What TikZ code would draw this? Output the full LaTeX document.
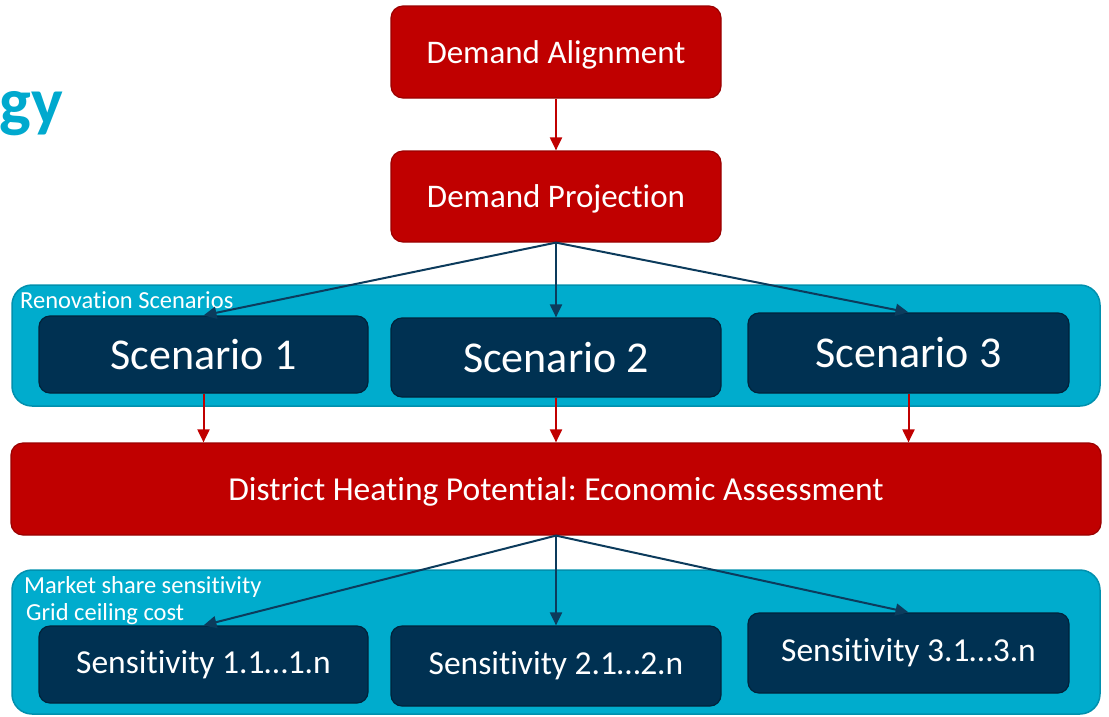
\documentclass[tikz,border=0pt]{standalone}
\usepackage{fontspec}
\setmainfont[Ligatures=NoCommon]{Carlito}
\usetikzlibrary{arrows.meta}
\definecolor{cred}{HTML}{C00000}
\definecolor{credb}{HTML}{9A0000}
\definecolor{ccyan}{HTML}{00ACCD}
\definecolor{ccyanb}{HTML}{0090AE}
\definecolor{cnavy}{HTML}{003152}
\definecolor{cnavyb}{HTML}{00233B}
\definecolor{cline}{HTML}{0C3B5C}
\definecolor{ctitle}{HTML}{00A9CE}
\frenchspacing
\tikzset{
  redbox/.style={draw=credb, line width=1.2pt, fill=cred, rounded corners=12pt, inner sep=0pt, text=white, text depth=0pt},
  navybox/.style={draw=cnavyb, line width=1.2pt, fill=cnavy, rounded corners=11pt, inner sep=0pt, text=white},
  container/.style={draw=ccyanb, line width=1.5pt, fill=ccyan, rounded corners=20pt, inner sep=0pt},
  grouplabel/.style={text=white, inner sep=0pt, anchor=west, font=\fontsize{24.5}{28}\selectfont},
  redarrow/.style={draw=cred, line width=2pt, -{Triangle[length=13pt,width=12pt]}},
  navyarrow/.style={draw=cline, line width=2pt, -{Triangle[length=13pt,width=12pt]}},
}
\begin{document}
\begin{tikzpicture}[x=1pt,y=-1pt]
\useasboundingbox (0,0) rectangle (1109,716);
\node[text=ctitle, anchor=base east, inner sep=0pt, font=\fontsize{67}{75}\selectfont\bfseries] (title) at (63,124) {gy};
% top boxes
\node[redbox, minimum width=330pt, minimum height=92pt, font=\fontsize{33}{38}\selectfont] (DA) at (556,52) {Demand Alignment};
\node[redbox, minimum width=330pt, minimum height=91pt, font=\fontsize{33}{38}\selectfont] (DP) at (556,196.5) {Demand Projection};
% containers
\node[container, minimum width=1088pt, minimum height=121pt] (RS) at (556,345.5) {};
\node[grouplabel] (RSl) at (20,300) {Renovation Scenarios};
\node[container, minimum width=1088pt, minimum height=144pt] (SC) at (556,642) {};
\node[grouplabel] (SCl1) at (24,587) {Market share sensitivity};
\node[grouplabel] (SCl2) at (26,614) {Grid ceiling cost};
% scenarios
\node[navybox, minimum width=329pt, minimum height=77pt, font=\fontsize{44}{50}\selectfont] (S1) at (203.5,354.5) {Scenario 1};
\node[navybox, minimum width=330pt, minimum height=79pt, font=\fontsize{44}{50}\selectfont] (S2) at (556,357.5) {Scenario 2};
\node[navybox, minimum width=321pt, minimum height=80pt, font=\fontsize{44}{50}\selectfont] (S3) at (908.5,353) {Scenario 3};
% DH
\node[redbox, minimum width=1090pt, minimum height=92pt, font=\fontsize{33.5}{38}\selectfont] (DH) at (556,489) {District Heating Potential: Economic Assessment};
% sensitivities
\node[navybox, minimum width=329pt, minimum height=77pt, font=\fontsize{33.5}{38}\selectfont] (T1) at (203.5,664.5) {Sensitivity 1.1…1.n};
\node[navybox, minimum width=330pt, minimum height=80pt, font=\fontsize{33.5}{38}\selectfont] (T2) at (556,666) {Sensitivity 2.1…2.n};
\node[navybox, minimum width=321pt, minimum height=80pt, font=\fontsize{33.5}{38}\selectfont] (T3) at (908.5,653) {Sensitivity 3.1…3.n};
% connectors
\draw[redarrow] (DA.south) -- (DP.north);
\draw[navyarrow] (DP.south) -- (S1.north);
\draw[navyarrow] (DP.south) -- (S2.north);
\draw[navyarrow] (DP.south) -- (S3.north);
\draw[redarrow] (S1.south) -- (S1.south |- DH.north);
\draw[redarrow] (S2.south) -- (S2.south |- DH.north);
\draw[redarrow] (S3.south) -- (S3.south |- DH.north);
\draw[navyarrow] (DH.south) -- (T1.north);
\draw[navyarrow] (DH.south) -- (T2.north);
\draw[navyarrow] (DH.south) -- (T3.north);
\end{tikzpicture}
\end{document}
